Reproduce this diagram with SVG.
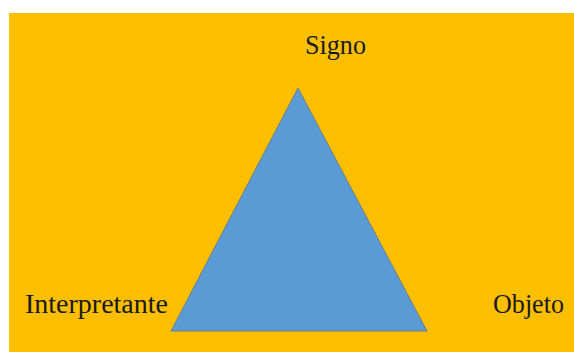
<svg xmlns="http://www.w3.org/2000/svg" width="574" height="352" viewBox="0 0 574 352">
<style>
.lbl{font-family:"Liberation Serif","Times New Roman",serif;font-size:27px;fill:#1a1a1a}
</style>
<rect x="0" y="0" width="574" height="352" fill="#ffffff"/>
<rect x="9" y="13" width="565" height="339" fill="#FCBF00"/>
<g id="triangle">
<polygon points="298,88 171,331 427,331" fill="#5B9BD5" stroke="#6E7F80" stroke-width="1"/>
</g>
<g id="signo"><text class="lbl" x="305" y="54" textLength="61" lengthAdjust="spacingAndGlyphs">Signo</text></g>
<g id="interpretante"><text class="lbl" x="25" y="313" textLength="143" lengthAdjust="spacingAndGlyphs">Interpretante</text></g>
<g id="objeto"><text class="lbl" x="493" y="313" textLength="71" lengthAdjust="spacingAndGlyphs">Objeto</text></g>
</svg>
